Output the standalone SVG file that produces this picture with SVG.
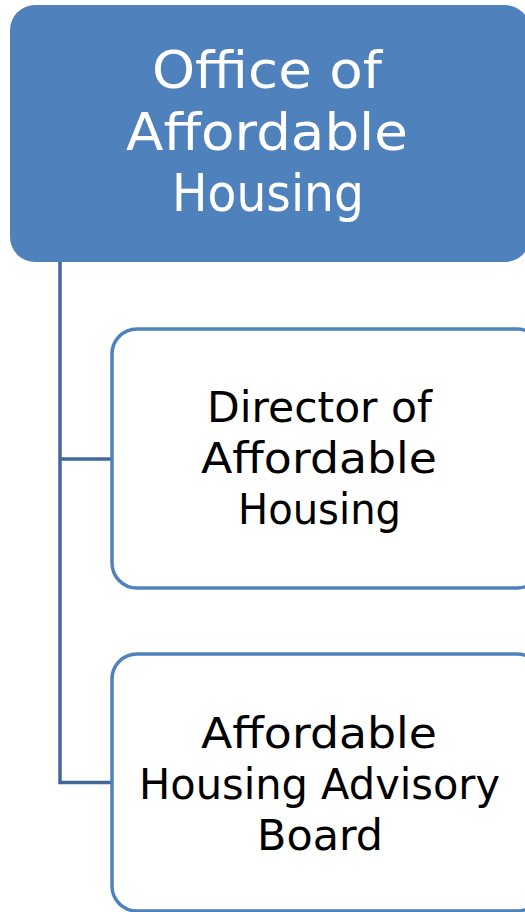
<svg xmlns="http://www.w3.org/2000/svg" width="525" height="912" viewBox="0 0 525 912">
<style>
.top{fill:#4F81BD;stroke:none}
.child{fill:#FFFFFF;stroke:#4F81BD;stroke-width:3.5}
.conn{fill:none;stroke:#41689A;stroke-width:3.5;stroke-linejoin:miter;stroke-linecap:butt}
.tw{font-family:"DejaVu Sans","Liberation Sans",sans-serif;font-size:51px;fill:#FFFFFF;text-anchor:middle}
.tb{font-family:"DejaVu Sans","Liberation Sans",sans-serif;font-size:42.5px;fill:#000000;text-anchor:middle}
</style>
<rect width="525" height="912" fill="#FFFFFF"/>
<g id="connectors">
<path class="conn" d="M60,262 V782.5 H112"/>
<path class="conn" d="M60,459 H112"/>
</g>
<g id="office">
<rect class="top" x="10" y="5" width="520" height="257" rx="25" ry="25"/>
<text class="tw" x="267" y="88" textLength="230" lengthAdjust="spacingAndGlyphs">Office of</text>
<text class="tw" x="267" y="150" textLength="282" lengthAdjust="spacingAndGlyphs">Affordable</text>
<text class="tw" x="268" y="211" textLength="192" lengthAdjust="spacingAndGlyphs">Housing</text>
</g>
<g id="director">
<rect class="child" x="112" y="329" width="430" height="259" rx="25" ry="25"/>
<text class="tb" x="319.5" y="422" textLength="225" lengthAdjust="spacingAndGlyphs">Director of</text>
<text class="tb" x="319" y="473" textLength="236" lengthAdjust="spacingAndGlyphs">Affordable</text>
<text class="tb" x="319.5" y="524" textLength="163" lengthAdjust="spacingAndGlyphs">Housing</text>
</g>
<g id="board">
<rect class="child" x="112" y="654" width="430" height="257" rx="25" ry="25"/>
<text class="tb" x="319" y="748" textLength="236" lengthAdjust="spacingAndGlyphs">Affordable</text>
<text class="tb" x="319.5" y="799" textLength="361" lengthAdjust="spacingAndGlyphs">Housing Advisory</text>
<text class="tb" x="320" y="850" textLength="126" lengthAdjust="spacingAndGlyphs">Board</text>
</g>
</svg>
